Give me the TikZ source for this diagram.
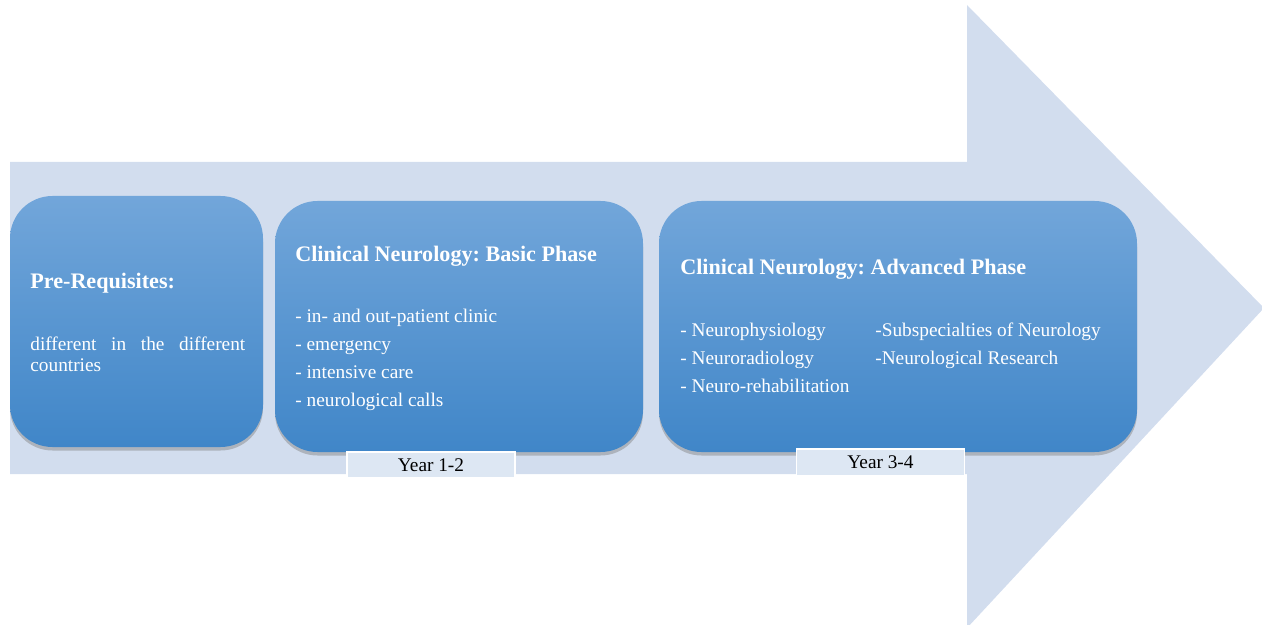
\documentclass[tikz,border=0pt]{standalone}
\usepackage{fontspec}
\setmainfont{Liberation Serif}
\usetikzlibrary{shadows,fadings}
\definecolor{arrowBlue}{RGB}{210,221,238}
\definecolor{boxTop}{RGB}{114,166,218}
\definecolor{boxMid}{RGB}{86,154,218}
\definecolor{boxBot}{RGB}{64,134,200}
\definecolor{yearFill}{RGB}{221,231,243}
\frenchspacing
\begin{document}
\begin{tikzpicture}
    [
        x=0.02cm, y=-0.02cm,
        arrowBody/.style={fill=arrowBlue},
        phaseBox/.style={rounded corners=0.85cm, top color=boxTop, middle color=boxMid, bottom color=boxBot,
            drop shadow={opacity=0.45, shadow xshift=0pt, shadow yshift=-0.07cm}},
        yearBox/.style={draw=white, thick, fill=yearFill, text=black, inner sep=0pt,
            minimum width=3.36cm, minimum height=0.52cm, font=\fontsize{11}{13}\selectfont},
        titleTxt/.style={text=white, inner sep=0pt, anchor=base west, font=\fontsize{12.6}{15}\selectfont\bfseries},
        itemTxt/.style={text=white, inner sep=0pt, anchor=base west, font=\fontsize{11}{13}\selectfont}
    ]
    \useasboundingbox (0,0) rectangle (1262,625);
    % big arrow
    \fill[arrowBody] (10,162) -- (967,162) -- (967,5) -- (1264,308) -- (967,628)
        -- (967,474) -- (10,474) -- cycle;

    % phase boxes
    \path[phaseBox] (10,196) rectangle (263,447);
    \path[phaseBox] (275,201) rectangle (643,452);
    \path[phaseBox] (659,201) rectangle (1137,452);

    % pre-requisites
    \node[titleTxt] (preTitle) at (30,288) {Pre-Requisites:};
    \node[text=white, inner sep=0pt, anchor=north west, text width=4.3cm, align=justify,
        font=\fontsize{11}{11.5}\selectfont] (preText) at (30,337)
        {different in the different countries};

    % basic phase
    \node[titleTxt] (basicTitle) at (295,261) {Clinical Neurology: Basic Phase};
    \foreach \t [count=\i] in {in- and out-patient clinic, emergency, intensive care, neurological calls}
        \node[itemTxt] (basic\i) at (295, 294 + 28*\i) {- \t};

    % advanced phase
    \node[titleTxt] (advTitle) at (680,275) {Clinical Neurology: Advanced Phase};
    \foreach \t [count=\i] in {Neurophysiology, Neuroradiology, Neuro-rehabilitation}
        \node[itemTxt] (advA\i) at (680, 308 + 28*\i) {- \t};
    \node[itemTxt] (advB1) at (875,336) {-Subspecialties of Neurology};
    \node[itemTxt] (advB2) at (875,364) {-Neurological Research};

    % years
    \node[yearBox] (yearA) at (431,465) {Year 1-2};
    \node[yearBox, minimum height=0.54cm] (yearB) at (880.5,462.5) {Year 3-4};
\end{tikzpicture}
\end{document}
